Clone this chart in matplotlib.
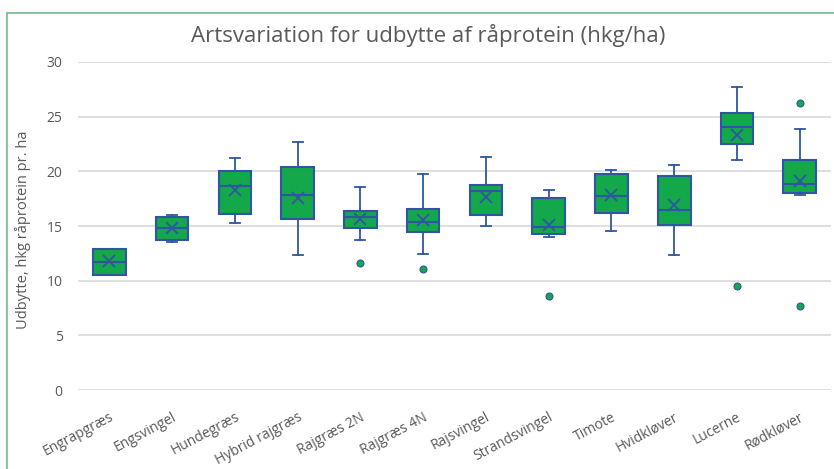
import matplotlib.pyplot as plt
from matplotlib.patches import Rectangle

species = ["Engrapgræs", "Engsvingel", "Hundegræs", "Hybrid rajgræs", "Rajgræs 2N",
           "Rajgræs 4N", "Rajsvingel", "Strandsvingel", "Timote", "Hvidkløver",
           "Lucerne", "Rødkløver"]

whislo = [10.55, 13.57, 15.31, 12.32, 13.75, 12.47, 14.97, 13.97, 14.52, 12.38, 21.04, 17.87]
q1 = [10.55, 13.75, 16.13, 15.68, 14.79, 14.46, 15.98, 14.24, 16.19, 15.10, 22.48, 17.99]
med = [11.74, 14.85, 18.66, 17.84, 15.83, 15.37, 18.18, 14.88, 17.75, 16.50, 24.09, 18.81]
q3 = [12.90, 15.83, 20.04, 20.37, 16.38, 16.59, 18.79, 17.57, 19.73, 19.55, 25.34, 21.07]
whishi = [12.90, 16.00, 21.20, 22.70, 18.60, 19.76, 21.28, 18.27, 20.10, 20.61, 27.75, 23.88]
means = [11.78, 14.80, 18.30, 17.54, 15.67, 15.58, 17.66, 15.10, 17.81, 16.90, 23.33, 19.12]
outliers = [[], [], [], [], [11.65], [11.07], [], [8.63], [], [], [9.49], [26.2, 7.66]]

green = "#13A84A"
blue = "#2F55A4"
grey = "#595959"

plt.rcParams["font.family"] = ["Open Sans", "DejaVu Sans"]

stats = []
for i in range(len(species)):
    stats.append({"label": species[i], "whislo": whislo[i], "q1": q1[i], "med": med[i],
                  "q3": q3[i], "whishi": whishi[i], "mean": means[i], "fliers": outliers[i]})

fig = plt.figure(figsize=(8.34, 4.69), dpi=100)
ax = fig.add_axes([0.0935, 0.168, 0.903, 0.7])

ax.bxp(stats, widths=0.52, patch_artist=True, showmeans=True, capwidths=0.16,
       boxprops=dict(facecolor=green, edgecolor=blue, linewidth=1.5),
       medianprops=dict(color=blue, linewidth=1.5),
       whiskerprops=dict(color=blue, linewidth=1.3),
       capprops=dict(color=blue, linewidth=1.3),
       meanprops=dict(marker="x", markeredgecolor=blue, markersize=9, markeredgewidth=1.3),
       flierprops=dict(marker="o", markerfacecolor=green, markeredgecolor=blue,
                       markersize=5, markeredgewidth=0.8))

ax.set_ylim(0, 30)
ax.set_yticks([0, 5, 10, 15, 20, 25, 30])
ax.set_xlim(0.5, len(species) + 0.5)
ax.yaxis.grid(True, color="#D9D9D9", linewidth=1.2)
ax.set_axisbelow(True)
for s in ax.spines.values():
    s.set_visible(False)
ax.tick_params(axis="both", length=0, colors=grey, labelsize=10)
ax.tick_params(axis="y", pad=11)
ax.tick_params(axis="x", pad=14)
ax.set_xticks(range(1, len(species) + 1))
ax.set_xticklabels(species, rotation=28, ha="right", rotation_mode="anchor")
ax.set_ylabel("Udbytte, hkg råprotein pr. ha", color=grey, fontsize=10.5)
ax.yaxis.set_label_coords(-0.063, 0.49)

fig.text(0.513, 0.925, "Artsvariation for udbytte af råprotein (hkg/ha)",
         ha="center", va="center", fontsize=16, color=grey)

fig.patches.append(Rectangle((7 / 834, -0.1), 1.2, 1 - 13 / 469 + 0.1,
                             transform=fig.transFigure, fill=False,
                             edgecolor="#6DBB8E", linewidth=1.2))

fig.savefig("out.png", dpi=100)
